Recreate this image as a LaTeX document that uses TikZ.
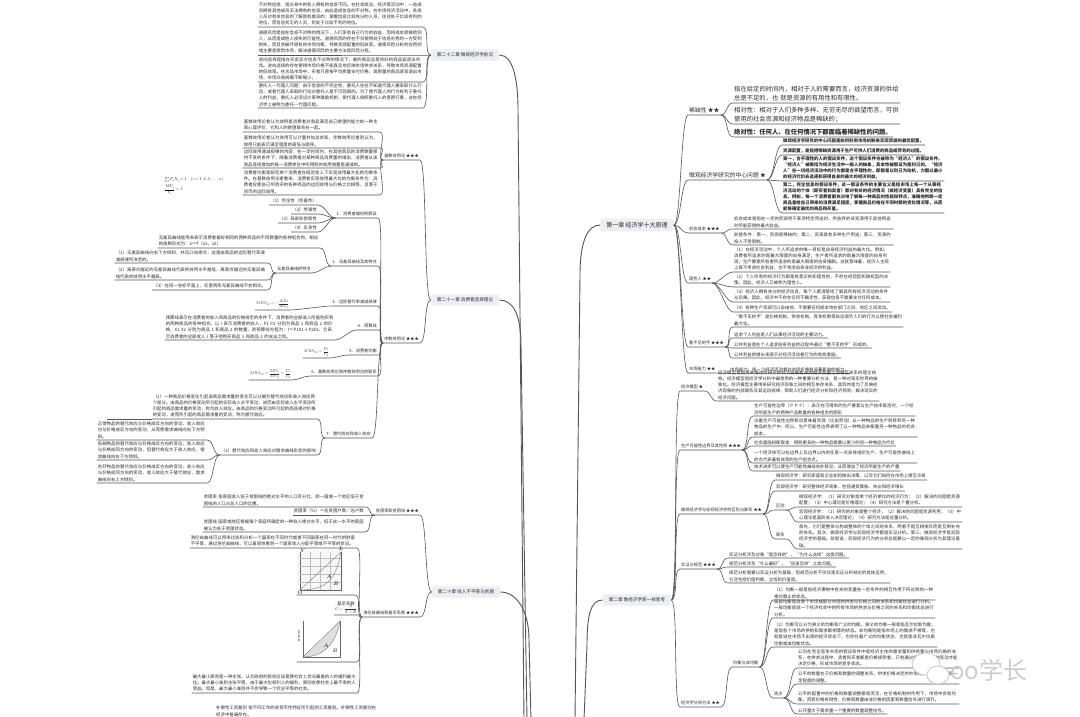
\documentclass[tikz,border=0pt]{standalone}
\usepackage{amsmath}
\usepackage{fontspec}
\setmainfont{Noto Sans CJK SC}
\XeTeXlinebreaklocale "zh"
\XeTeXlinebreakskip = 0pt plus 0.5pt
\usetikzlibrary{calc}

\definecolor{linec}{HTML}{555555}
\definecolor{chapbg}{HTML}{ECEEF4}
\definecolor{txt}{HTML}{2B2B2B}

\newcommand\fsz[2]{\fontsize{#1}{#2}\selectfont}
\newcommand\fml[1]{\scalebox{0.42}{\normalsize$#1$}}
\newcommand\rlink[2]{\draw[br] (#1) .. controls +(7,0) and +(-7,0) .. (#2.south west) -- (#2.south east);}
\newcommand\llink[2]{\draw[br] (#1) .. controls +(-7,0) and +(7,0) .. (#2.south east) -- (#2.south west);}

\begin{document}
\begin{tikzpicture}[x=1pt, y=-1pt,
    chap/.style={fill=chapbg, rounded corners=1.5pt, inner xsep=6pt, inner ysep=3.5pt, font=\fsz{4.6}{5.5}, text=txt},
    topic/.style={anchor=south west, inner xsep=1pt, inner ysep=1.5pt, font=\fsz{4.2}{5}, text=txt},
    ltopic/.style={topic, anchor=south east},
    btopic/.style={topic, font=\fsz{5.8}{7}},
    leaf/.style={anchor=south west, inner xsep=1pt, inner ysep=1.4pt, align=left, font=\fsz{4.4}{6.1}, text=txt},
    lleaf/.style={leaf, anchor=south east},
    big/.style={font=\fsz{6.3}{9}},
    pic/.style={anchor=south east, inner sep=0pt},
    br/.style={draw=linec, line width=0.6pt},
    trunk/.style={draw=linec, line width=0.9pt},
    thin/.style={draw=black!60, line width=0.3pt}]
  \useasboundingbox (0,0) rectangle (1080,717);
  \fill[white] (0,0) rectangle (1080,717);
  \clip (0,0) rectangle (1080,717);

  % chapters
  \node[chap, font=\fsz{6}{7}] (c1) at (637,225) {第一章 经济学十大原理};
  \node[chap] (c2) at (637,600) {第二章 像经济学家一样思考};
  \node[chap] (c22) at (465,55) {第二十二章 微观经济学前沿};
  \node[chap] (c21) at (465,300) {第二十一章 消费者选择理论};
  \node[chap] (c20) at (466,592) {第二十章 收入不平等与贫困};
  \coordinate (e22) at (524,720);
  \coordinate (e21) at (527,720);
  \coordinate (e20) at (531,720);
  \coordinate (e1) at (575,720);
  \coordinate (e2) at (584,720);
  \draw[trunk] (c22.east) .. controls +(14,0) and +(0,-30) .. (518,110) -- (e22);
  \draw[trunk] (c21.east) .. controls +(14,0) and +(0,-30) .. (521,345) -- (e21);
  \draw[trunk] (c20.east) .. controls +(16,0) and +(0,-30) .. (529,640) -- (e20);
  \draw[trunk] (c1.west) .. controls +(-12,0) and +(0,-35) .. (580,275) -- (e1);
  \draw[trunk] (c2.west) .. controls +(-12,0) and +(0,-30) .. (587,645) -- (e2);

  % chapter 1
  \node[btopic] (t11) at (688,115) {稀缺性 ★★};
  \node[btopic] (t12) at (688,180) {微观经济学研究的中心问题 ★};
  \node[topic] (t13) at (688,233) {机会成本 ★★★};
  \node[topic] (t14) at (688,283) {理性人 ★★};
  \node[topic] (t15) at (688,347) {看不见的手 ★★★};
  \node[topic] (t16) at (688,373) {市场能力 ★★};

  \node[leaf, big, text width=165] (l111) at (733,103) {指在给定的时间内，相对于人的需要而言，经济资源的供给总是不足的，也 就是资源的有用性和有限性。};
  \node[leaf, big, text width=165] (l112) at (733,124) {相对性：相对于人们多种多样、无穷无尽的欲望而言，可供使用的社会资源和经济物品是稀缺的；};
  \node[leaf, big] (l113) at (733,137) {\bfseries 绝对性：任何人、在任何情况下都面临着稀缺性的问题。};

  \node[leaf] (l121) at (782,145) {\bfseries 微观经济学研究的中心问题是如何利用市场机制来实现资源的最优配置。};
  \node[leaf] (l122) at (782,155) {\bfseries 资源配置，是指把稀缺资源用于生产可供人们消费的商品或劳务的过程。};
  \node[leaf, text width=160] (l123) at (782,181) {\bfseries 第一，合乎理性的人的假设条件，这个假设条件也被称为“经济人”的假设条件。“经济人”被概括为经济生活中一般人的抽象，其本性被假设为是利己的。“经济人”在一切经济活动中的行为都是合乎理性的，即都是以利己为动机，力图以最小的经济代价去追逐和获得自身的最大的经济利益。};
  \node[leaf, text width=160] (l124) at (782,213) {\bfseries 第二，完全信息的假设条件，这一假设条件的主要含义是指市场上每一个从事经济活动的个体（即买者和卖者）都对有关的经济情况（或经济变量）具有完全的信息。例如，每一个消费者都充分地了解每一种商品的性能和特点，准确地判断一定商品量给自己带来的消费满足程度，掌握商品价格在不同时期的变化情况等，从而能够确定最优的商品购买量。};

  \node[leaf, text width=158] (l131) at (733,229) {机会成本是指在一定的资源用于某项特定用途时，所放弃的该资源用于其他用途时所能获得的最大收益。};
  \node[leaf, text width=158] (l132) at (733,245) {前提条件：第一，资源是稀缺的；第二，资源具有多种生产用途；第三，资源的投入不受限制。};

  \node[leaf, text width=155] (l141) at (733,272) {（1）在经济活动中，个人所追求的唯一目标是自身经济利益的最大化。例如，消费者所追求的是最大限度的自身满足；生产者所追求的是最大限度的自身利润；生产要素所有者所追求的是最大限度的自身报酬。这就意味着，经济人主观上既不考虑社会利益，也不考虑自身非经济的利益。};
  \node[leaf, text width=155] (l142) at (733,287) {（2）个人所有的经济行为都是有意识的和理性的，不存在经验型和随机型的决策。因此，经济人又被称为理性人。};
  \node[leaf, text width=155] (l143) at (733,302) {（3）经济人拥有充分的经济信息，每个人都清楚地了解其所有经济活动的条件与后果。因此，经济中不存在任何不确定性，获取信息不需要支付任何成本。};
  \node[leaf] (l144) at (733,312) {（4）各种生产资源可以自由地、不需要任何成本地在部门之间、地区之间流动。};

  \node[leaf, text width=168] (l151) at (733,327) {“看不见的手”是价格机制、供求机制、竞争机制等自动调节人们的行为以使社会福利最大化。};
  \node[leaf] (l152) at (733,338) {追求个人利益是人们从事经济活动的主要动力。};
  \node[leaf] (l153) at (733,348) {公共利益是在个人追求自身利益的过程中通过“看不见的手”形成的。};
  \node[leaf] (l154) at (733,358) {公共利益的增长来源于对经济活动者行为的有效激励。};
  \node[leaf] (l161) at (729,373) {市场能力：指一个经济活动者对市场价格有显著影响的能力。};

  \foreach \t in {t11,t12,t13,t14,t15,t16} {\rlink{c1.east}{\t}}
  \foreach \l in {l111,l112,l113} {\rlink{t11.south east}{\l}}
  \foreach \l in {l121,l122,l123,l124} {\rlink{t12.south east}{\l}}
  \foreach \l in {l131,l132} {\rlink{t13.south east}{\l}}
  \foreach \l in {l141,l142,l143,l144} {\rlink{t14.south east}{\l}}
  \foreach \l in {l151,l152,l153,l154} {\rlink{t15.south east}{\l}}
  \rlink{t16.south east}{l161}

  % chapter 2
  \node[topic] (t21) at (680,391) {经济模型 ★};
  \node[topic] (t22) at (680,450) {生产可能性边界及其性质 ★★★};
  \node[topic] (t23) at (680,514) {微观经济学与宏观经济学的区别与联系 ★★};
  \node[topic] (t24) at (680,569) {实证与规范 ★★★};
  \node[topic] (t25) at (680,707) {经济学分析方法 ★★};

  \node[leaf, text width=160] (l211) at (717,401) {经济模型是指用来描述所研究的经济现象有关的经济变量之间相互关系的理论结构。经济模型是经济学分析中最常用的一种重要分析方法，是一种对现实世界的抽象化。经济模型主要用来研究经济现象之间的相互依存关系，其目的是为了反映经济现象的内部联系及其运动规律，帮助人们进行经济分析和经济预测，解决现实的经济问题。};

  \node[leaf, text width=160] (l221) at (753,416) {生产可能性边界（ＰＰＦ）：表示在可得到的生产要素与生产技术既定时，一个经济所能生产的两种产品数量的各种组合的图形};
  \node[leaf, text width=162] (l222) at (753,437) {沿着生产可能性边界移动意味着资源（比如劳动）从一种物品的生产转移到另一种物品的生产中，所以，生产可能性边界表明了以一种物品来衡量另一种物品的机会成本。};
  \node[leaf] (l223) at (753,446) {社会面临权衡取舍：得到更多的一种物品需要以更少的另一种物品为代价};
  \node[leaf, text width=162] (l224) at (753,463) {一个经济体可以在边界上及边界以内的任意一点安排组织生产，生产可能性曲线上的点代表着有效率的生产组合点。};
  \node[leaf] (l225) at (753,471) {技术进步可以使生产可能性曲线向外移动，从而增加了经济所能生产的产量};

  \node[leaf] (l231) at (775,480) {微观经济学：研究家庭和企业如何做出决策，以及它们如何在市场上相互交易};
  \node[leaf] (l232) at (775,491) {宏观经济学：研究整体经济现象，包括通货膨胀、失业和经济增长};
  \node[topic] (l233) at (775,510) {区别};
  \node[topic] (l234) at (775,539) {联系};
  \node[leaf, text width=162] (l2331) at (798,507) {微观经济学：（1）研究对象是单个经济单位的经济行为；（2）解决的问题是资源配置；（3）中心理论是价格理论；（4）研究方法是个量分析。};
  \node[leaf, text width=162] (l2332) at (798,522) {宏观经济学：（1）研究的对象是整个经济；（2）解决的问题是资源利用；（3）中心理论是国民收入决定理论；（4）研究方法是总量分析。};
  \node[leaf, text width=162] (l2341) at (798,549) {首先，它们是整体与构成整体的个体之间的关系，两者不是互相排斥而是互相补充的关系。其次，微观经济学与宏观经济学都是实证分析。第三，微观经济学是宏观经济学的基础。就是说，宏观经济行为的分析总是要以一定的微观分析为其理论基础。};

  \node[leaf] (l241) at (728,558) {实证分析涉及对象“是怎样的”、“为什么这样”这类问题。};
  \node[leaf] (l242) at (728,567) {规范分析涉及“什么最好”、“应该怎样”之类问题。};
  \node[leaf, text width=160] (l243) at (728,583) {规范分析需要以实证分析为基础，但规范分析不仅仅是实证分析结论的具体运用，它还包括价值判断、立场和价值观。};

  \node[topic] (l251) at (732,667) {均衡与非均衡};
  \node[leaf, text width=160] (l2511) at (773,600) {（1）均衡一般是指经济事物中有关的变量在一定条件的相互作用下所达到的一种相对静止的状态。};
  \node[leaf, text width=160] (l2512) at (773,618) {局部均衡是就单个市场或部分市场的供求与价格之间的关系和均衡状态进行分析。一般均衡是就一个经济社会中的所有市场的供求与价格之间的关系和均衡状态进行分析。};
  \node[leaf, text width=162] (l2513) at (773,647) {（2）均衡可以分为狭义的均衡和广义的均衡。狭义的均衡一般是指瓦尔拉斯均衡，是指各个市场的供给和需求都相等的状态。非均衡则是指市场上的需求不相等，也就是说在市场不出清的经济状态下，也存在着广义的均衡状态，也就是非瓦尔拉斯均衡或准均衡状态。};
  \node[topic] (l2514) at (773,698) {观点};
  \node[leaf, text width=160] (l25141) at (797,668) {公司在完全竞争市场的假设条件中是经济主体的需求量和供给量与市场价格的关系，在供求过程中，卖者和买者都是价格接受者，只有通过供给和需求的变动才能决定价格，形成市场的竞争状态。};
  \node[leaf, text width=160] (l25142) at (797,684) {公平的数量在于价格和数量的调整关系，供求价格决定的市场均衡，而数量只是一定程度的调整。};
  \node[leaf, text width=160] (l25143) at (797,704) {公平的配置中的价格和数量调整都很灵活，在价格机制的作用下，市场中会有均衡。而若价格有刚性，价格和数量由非价格的因素和数量信号进行调节。};
  \node[leaf] (l25144) at (797,714) {公开量大于需求量一个重要的数量调整信号。};

  \foreach \t in {t21,t22,t23,t24,t25} {\rlink{c2.east}{\t}}
  \rlink{t21.south east}{l211}
  \foreach \l in {l221,l222,l223,l224,l225} {\rlink{t22.south east}{\l}}
  \foreach \l in {l231,l232,l233,l234} {\rlink{t23.south east}{\l}}
  \foreach \l in {l2331,l2332} {\rlink{l233.south east}{\l}}
  \rlink{l234.south east}{l2341}
  \foreach \l in {l241,l242,l243} {\rlink{t24.south east}{\l}}
  \rlink{t25.south east}{l251}
  \foreach \l in {l2511,l2512,l2513,l2514} {\rlink{l251.south east}{\l}}
  \foreach \l in {l25141,l25142,l25143,l25144} {\rlink{l2514.south east}{\l}}

  % chapter 22
  \node[lleaf, text width=163] (b1) at (423,27) {不对称信息：指交易中的各人拥有的信息不同。在社会政治、经济等活动中，一些成员拥有其他成员无法拥有的信息，由此造成信息的不对称。在市场经济活动中，各类人员对有关信息的了解是有差异的；掌握信息比较充分的人员，往往处于比较有利的地位，而信息贫乏的人员，则处于比较不利的地位。};
  \node[lleaf, text width=163] (b2) at (423,55) {道德风险是指在信息不对称的情况下，人们享有自己行为的收益，而将成本转嫁给别人，从而造成他人损失的可能性。道德风险的存在不仅使得处于信息劣势的一方受到损失，而且会破坏原有的市场均衡，导致资源配置的低效率。道德风险分析的应用领域主要是保险市场，解决道德风险的主要方法是风险分担。};
  \node[lleaf, text width=163] (b3) at (423,82) {逆向选择是指在买卖双方信息不对称的情况下，差的商品总是将好的商品驱逐出市场。逆向选择的存在使得市场价格不能真实地反映市场供求关系，导致市场资源配置的低效率。在次品市场中，买者只愿按平均质量支付价格，高质量的商品逐渐退出市场，市场交易规模不断缩小。};
  \node[lleaf, text width=163] (b4) at (423,108) {委托人－代理人问题：由于信息的不完全性，委托人往往不知道代理人要采取什么行动，或者代理人采取的行动对委托人是不可观察的。为了使代理人的行为有利于委托人的利益，委托人必须设计某种激励机制，使代理人按照委托人的意愿行事，这在经济学上被称为委托－代理问题。};
  \foreach \b in {b1,b2,b3,b4} {\llink{c22.west}{\b}}

  % chapter 21
  \node[ltopic] (j1) at (420,160) {基数效用论 ★★★};
  \node[ltopic] (j2) at (420,343) {序数效用论 ★★★};
  \llink{c21.west}{j1}
  \llink{c21.west}{j2}

  \node[lleaf, text width=135] (k1) at (380,132) {基数效用论者认为效用是消费者对商品满足自己欲望的能力的一种主观心理评价，它和人的欲望联系在一起。};
  \node[lleaf, text width=135] (k2) at (380,148) {基数效用论者认为效用可以计量并加总求和，序数效用论者则认为，效用只能表示满足程度的高低与顺序。};
  \node[lleaf, text width=135] (k3) at (380,168) {边际效用递减规律的内容：在一定时间内，在其他商品的消费数量保持不变的条件下，随着消费者对某种商品消费量的增加，消费者从该商品连续增加的每一消费单位中所得到的效用增量是递减的。};
  \node[lleaf, text width=135] (k4) at (380,195) {消费者均衡是研究单个消费者在既定收入下实现效用最大化的均衡条件。在基数效用论者看来，消费者实现效用最大化的均衡条件为：消费者应使自己所购买的各种商品的边际效用与价格之比相等，且等于货币的边际效用。};
  \foreach \k in {k1,k2,k3,k4} {\llink{j1.south west}{\k}}
  \node[align=left, inner sep=0pt] (fk) at (194,186) {\fml{\sum P_iX_i=I\quad (i=1,2,3,\dots,n)}\\[-2pt]\fml{\dfrac{MU_i}{P_i}=\lambda}};

  \node[ltopic] (s1) at (378,218) {1．消费者偏好的假设};
  \node[ltopic] (s2) at (378,266) {2．无差异曲线及其特点};
  \node[ltopic] (s3) at (378,306) {3．边际替代率递减规律};
  \node[ltopic] (s4) at (378,330) {4．预算线};
  \node[ltopic] (s5) at (378,355) {5．消费者均衡};
  \node[ltopic] (s6) at (378,376) {6．基数效用论和序数效用论的联系};
  \node[ltopic] (s7) at (372,438) {7．替代效应和收入效应};
  \foreach \s in {s1,s2,s3,s4,s5,s6,s7} {\llink{j2.south west}{\s}}

  \node[lleaf] (p1) at (318,205) {（1）完全性（完备性）};
  \node[lleaf] (p2) at (318,214) {（2）传递性};
  \node[lleaf] (p3) at (318,223) {（3）局部非饱和性};
  \node[lleaf] (p4) at (318,232) {（4）反身性};
  \foreach \p in {p1,p2,p3,p4} {\llink{s1.south west}{\p}}

  \node[lleaf, text width=160] (n1) at (320,248) {无差异曲线是用来表示消费者偏好相同的两种商品的不同数量的各种组合的，相应的函数形式为：U＝f（x1，x2）};
  \node[ltopic] (n2) at (312,273) {无差异曲线的特点};
  \llink{s2.south west}{n1}
  \llink{s2.south west}{n2}
  \node[lleaf, text width=150] (q1) at (267,263) {（1）无差异曲线向右下方倾斜，并且凸向原点，这是由商品的边际替代率递减规律所决定的。};
  \node[lleaf, text width=150] (q2) at (267,280) {（2）离原点越近的无差异曲线代表的效用水平越低，离原点越远的无差异曲线代表的效用水平越高。};
  \node[lleaf] (q3) at (267,290) {（3）在同一坐标平面上，任意两条无差异曲线不会相交。};
  \foreach \q in {q1,q2,q3} {\llink{n2.south west}{\q}}

  \node[lleaf] (f3) at (290,310) {\fml{MRS_{12}=-\dfrac{\Delta X_2}{\Delta X_1}}};
  \llink{s3.south west}{f3}
  \node[lleaf, text width=168] (f4) at (335,340) {预算线表示在消费者的收入和商品的价格给定的条件下，消费者的全部收入所能购买到的两种商品的各种组合。以 I 表示消费者的收入，P1 P2 分别为商品 1 和商品 2 的价格，X1 X2 分别为商品 1 和商品 2 的数量，则预算线方程为：I＝P1X1＋P2X2，它表示消费者的全部收入 I 等于他购买商品 1 和商品 2 的支出之和。};
  \llink{s4.south west}{f4}
  \node[lleaf] (f5) at (330,358) {\fml{MRS_{12}=\dfrac{P_1}{P_2}}};
  \llink{s5.south west}{f5}
  \node[lleaf] (f6) at (292,380) {\fml{MRS_{12}=\dfrac{MU_1}{MU_2}=\dfrac{P_1}{P_2}}};
  \llink{s6.south west}{f6}

  \node[lleaf, text width=163] (x1) at (317,419) {（1）一种商品价格变化引起该商品需求量的变化可以分解为替代效应和收入效应两个部分。由商品的价格变动所引起的实际收入水平变动，进而由实际收入水平变动所引起的商品需求量的变动，称为收入效应。由商品的价格变动所引起的商品相对价格的变动，进而所引起的商品需求量的变动，称为替代效应。};
  \draw[br] (x1.south west) -- ++(-45,0);
  \node[lleaf] (x2) at (317,455) {（2）替代效应和收入效应对需求曲线形状的影响};
  \llink{s7.south west}{x1}
  \llink{s7.south west}{x2}
  \node[lleaf, text width=108] (x21) at (207,440) {正常物品的替代效应与价格成反方向的变动，收入效应也与价格成反方向的变动，从而使需求曲线向右下方倾斜。};
  \node[lleaf, text width=108] (x22) at (207,460) {低档物品的替代效应与价格成反方向的变动，收入效应与价格成同方向的变动，但替代效应大于收入效应，需求曲线向右下方倾斜。};
  \node[lleaf, text width=108] (x23) at (207,483) {吉芬物品的替代效应与价格成反方向的变动，收入效应与价格成同方向的变动，收入效应大于替代效应，需求曲线向右上方倾斜。};
  \foreach \x in {x21,x22,x23} {\llink{x2.south west}{\x}}

  % chapter 20
  \node[ltopic] (u1) at (420,515) {贫困率和贫困线 ★★★};
  \node[ltopic] (u2) at (420,617) {洛伦兹曲线和基尼系数 ★★★};
  \llink{c20.west}{u1}
  \llink{c20.west}{u2}
  \node[lleaf, text width=160] (a1) at (365,507) {贫困率 指家庭收入低于贫困线的绝对水平的人口百分比，即一国或一个地区低于贫困线的人口占总人口的比重。};
  \node[lleaf] (a2) at (365,515) {贫困率（\%）＝总贫困户数／总户数};
  \node[lleaf, text width=160] (a3) at (365,532) {贫困线 国家或地区根据每个家庭所确定的一种收入绝对水平，低于这一水平的家庭被认为处于贫困状态。};
  \foreach \a in {a1,a2,a3} {\llink{u1.south west}{\a}}

  \node[lleaf, text width=165] (y1) at (357,548) {洛伦兹曲线可以用来比较和分析一个国家在不同时代或者不同国家在同一时代的财富不平等，通过洛伦兹曲线，可以直观地看到一个国家收入分配平等或不平等的状况。};
  \node[pic, minimum width=58, minimum height=46] (y2) at (355,595) {};
  \node[lleaf, align=center] (y3) at (358,615) {基尼系数\\[-1pt]\fml{G=\dfrac{A}{A+B}}};
  \node[pic, minimum width=60, minimum height=45] (y4) at (357,662) {};
  \node[lleaf, text width=163] (y5) at (357,693) {最大最小原则是一种主张，认为政府的目标应该是使社会上状况最差的人的福利最大化。最大最小准则主张平等，由于最大化权利人的福利，原则会使社会上最不幸的人受益。但是，最大最小准则并不会导致一个完全平等的社会。};
  \foreach \y in {y1,y2,y3,y4,y5} {\llink{u2.south west}{\y}}
  \node[leaf, text width=160] (z1) at (215,718) {补偿性工资差别 指不同工作的非货币性特征所引起的工资差别。补偿性工资差别在经济中普遍存在。};

  % lorenz curve picture
  \fill[gray!6] (297,550) rectangle (343,593);
  \draw[thin] (300,552) -- (300,590) -- (342,590);
  \foreach \k in {558,566,574,582} {\draw[black!25, line width=0.2pt] (300,\k) -- (341,\k);}
  \foreach \k in {310,320,330} {\draw[black!25, line width=0.2pt] (\k,552) -- (\k,590);}
  \draw[thin] (300,590) -- (341,552);
  \draw[thin] (300,590) .. controls (326,590) and (336,580) .. (341,552);
  \draw[thin] (341,552) -- (341,590);
  \node[font=\fsz{2.2}{2.5}] at (303,551) {$Y$};
  \node[font=\fsz{2.2}{2.5}] at (341,549) {$L$};
  \node[font=\fsz{2.2}{2.5}] at (300,593) {$O$};
  \node[font=\fsz{2.2}{2.5}] at (329,577) {$A$};
  \node[font=\fsz{2.2}{2.5}] at (336,584) {$B$};

  % gini picture
  \fill[gray!25] (303,657) -- (340,621) .. controls (336,645) and (322,657) .. (303,657);
  \draw[thin] (303,621) -- (303,657) -- (340,657) -- (340,621);
  \draw[thin] (303,657) -- (340,621);
  \draw[thin] (303,657) .. controls (322,657) and (336,645) .. (340,621);
  \node[font=\fsz{2.4}{2.5}] at (326,646) {$A$};
  \node[font=\fsz{2.4}{2.5}] at (335,651) {$B$};
  \node[font=\fsz{2.2}{2.5}, rotate=90] at (299,636) {收入百分比};

  % watermark
  \draw[gray!45, line width=0.8pt, fill=white] (926,664) ellipse (14 and 11);
  \draw[gray!45, line width=0.8pt, fill=white] (938,675) ellipse (11 and 9);
  \node[font=\fsz{24}{24}, text=gray!40, anchor=west, inner sep=0pt] (wm) at (950,670) {oo学长};
\end{tikzpicture}
\end{document}
